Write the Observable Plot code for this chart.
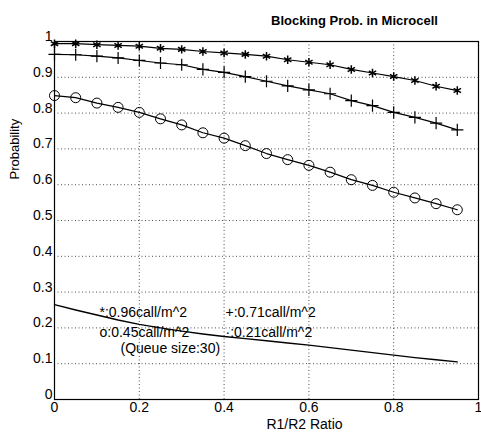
<!DOCTYPE html>
<html>
<head>
<meta charset="utf-8">
<script src="https://cdn.jsdelivr.net/npm/d3@7"></script>
<script src="https://cdn.jsdelivr.net/npm/@observablehq/plot@0.6"></script>
<style>
  html, body { margin: 0; padding: 0; background: #fff; }
  svg { font-family: "Liberation Sans", Arial, sans-serif; }
</style>
</head>
<body>
<div id="chart"></div>
<script>
// R1/R2 ratio (x) values
const ratios = [0, 0.05, 0.1, 0.15, 0.2, 0.25, 0.3, 0.35, 0.4, 0.45, 0.5, 0.55, 0.6, 0.65, 0.7, 0.75, 0.8, 0.85, 0.9, 0.95];
// Series "*": 0.96 call/m^2
const star = [0.994, 0.994, 0.991, 0.989, 0.987, 0.981, 0.978, 0.972, 0.968, 0.964, 0.959, 0.949, 0.942, 0.935, 0.922, 0.912, 0.902, 0.891, 0.875, 0.863];
// Series "+": 0.71 call/m^2
const plus = [0.964, 0.963, 0.959, 0.954, 0.947, 0.940, 0.935, 0.922, 0.914, 0.902, 0.889, 0.876, 0.865, 0.854, 0.835, 0.821, 0.802, 0.788, 0.772, 0.753];
// Series "o": 0.45 call/m^2
const circ = [0.849, 0.843, 0.828, 0.816, 0.802, 0.784, 0.767, 0.745, 0.730, 0.709, 0.687, 0.670, 0.654, 0.635, 0.614, 0.598, 0.579, 0.563, 0.547, 0.530];
// Series ".": 0.21 call/m^2
const dotS = [0.265, 0.250, 0.236, 0.222, 0.210, 0.200, 0.191, 0.183, 0.176, 0.170, 0.164, 0.158, 0.152, 0.145, 0.138, 0.131, 0.124, 0.117, 0.111, 0.105];

const xTicks = [0, 0.2, 0.4, 0.6, 0.8, 1];
const yTicks = [0, 0.1, 0.2, 0.3, 0.4, 0.5, 0.6, 0.7, 0.8, 0.9, 1];
const title = "Blocking Prob. in Microcell";
const xLabel = "R1/R2 Ratio";
const yLabel = "Probability";
const legendRow1 = ["*:0.96call/m^2", "+:0.71call/m^2"];
const legendRow2 = ["o:0.45call/m^2", "\u00b7:0.21call/m^2"];
const legendNote = "(Queue size:30)";

const mk = (ys) => ratios.map((x, i) => ({x, y: ys[i]}));
const sStar = mk(star), sPlus = mk(plus), sCirc = mk(circ), sDot = mk(dotS);
const fmt = d => (d === 0 || d === 1) ? String(d) : d.toFixed(1);

const chart = Plot.plot({
  width: 481,
  height: 441,
  marginLeft: 54,
  marginRight: 3,
  marginTop: 41,
  marginBottom: 42,
  style: {fontFamily: "'Liberation Sans', Arial, sans-serif", background: "white", color: "black"},
  x: {domain: [0, 1]},
  y: {domain: [0, 1]},
  marks: [
    Plot.gridX(xTicks, {stroke: "black", strokeOpacity: 0.7, strokeDasharray: "1,2.5"}),
    Plot.gridY(yTicks, {stroke: "black", strokeOpacity: 0.7, strokeDasharray: "1,2.5"}),
    Plot.frame({stroke: "black", strokeWidth: 1.2}),
    Plot.axisX(xTicks, {tickSize: 0, tickPadding: 3, fontSize: 14, tickFormat: fmt, label: null}),
    Plot.axisY(yTicks, {tickSize: 0, tickPadding: 2, dy: -5, fontSize: 14, tickFormat: fmt, label: null}),
    Plot.line(sStar, {x: "x", y: "y", stroke: "black", strokeWidth: 1.2}),
    Plot.line(sPlus, {x: "x", y: "y", stroke: "black", strokeWidth: 1.2}),
    Plot.line(sCirc, {x: "x", y: "y", stroke: "black", strokeWidth: 1.2}),
    Plot.line(sDot, {x: "x", y: "y", stroke: "black", strokeWidth: 1.4}),
    Plot.dot(sStar, {x: "x", y: "y", symbol: "asterisk", r: 4, stroke: "black", strokeWidth: 1.5}),
    Plot.dot(sPlus, {x: "x", y: "y", symbol: "plus", r: 4, stroke: "black", strokeWidth: 1.2}),
    Plot.dot(sCirc, {x: "x", y: "y", symbol: "circle", r: 5, stroke: "black", fill: "none", strokeWidth: 1}),
    Plot.text([title], {frameAnchor: "top", dx: 88, dy: -26, fontSize: 13, fontWeight: "bold", fill: "black"}),
    Plot.text([xLabel], {frameAnchor: "bottom", dx: 38, dy: 29, fontSize: 14, fill: "black"}),
    Plot.text([yLabel], {frameAnchor: "left", dx: -40, dy: -41, rotate: -90, fontSize: 13, fill: "black"}),
    Plot.text([legendRow1[0]], {frameAnchor: "top-left", dx: 45, dy: 266, textAnchor: "start", fontSize: 14, fill: "black"}),
    Plot.text([legendRow1[1]], {frameAnchor: "top-left", dx: 171, dy: 266, textAnchor: "start", fontSize: 14, fill: "black"}),
    Plot.text([legendRow2[0]], {frameAnchor: "top-left", dx: 45, dy: 286, textAnchor: "start", fontSize: 14, fill: "black"}),
    Plot.text([legendRow2[1]], {frameAnchor: "top-left", dx: 171, dy: 286, textAnchor: "start", fontSize: 14, fill: "black"}),
    Plot.text([legendNote], {frameAnchor: "top-left", dx: 66, dy: 302, textAnchor: "start", fontSize: 14, fill: "black"})
  ]
});
document.getElementById("chart").appendChild(chart);
</script>
</body>
</html>
